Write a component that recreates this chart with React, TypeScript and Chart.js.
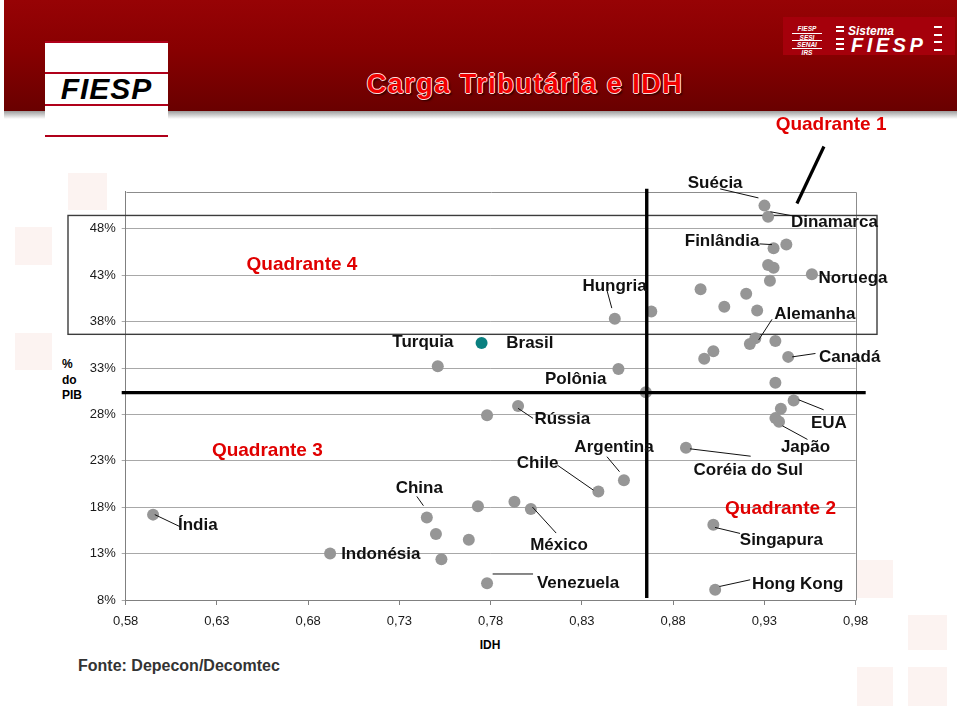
import React, { useEffect, useRef } from 'react';
import { Chart, registerables } from 'chart.js';

Chart.register(...registerables);

// ---------- data ----------
const countries = [
  'Índia', 'Indonésia', 'China', '', '', '', '', 'Turquia', 'Brasil', '',
  'Rússia', '', 'México', 'Venezuela', 'Chile', 'Argentina', 'Hungria', 'Polônia', '', '',
  'Coréia do Sul', 'Singapura', 'Hong Kong', '', '', '', '', '', '', 'Alemanha',
  '', '', 'Canadá', '', 'EUA', '', '', 'Japão', 'Suécia', 'Dinamarca',
  'Finlândia', '', '', '', 'Noruega', '',
];
const idh = [
  0.595, 0.692, 0.745, 0.750, 0.753, 0.768, 0.773, 0.751, 0.775, 0.778,
  0.795, 0.793, 0.802, 0.778, 0.839, 0.853, 0.848, 0.850, 0.868, 0.865,
  0.887, 0.902, 0.903, 0.895, 0.908, 0.920, 0.926, 0.897, 0.902, 0.925,
  0.922, 0.936, 0.943, 0.936, 0.946, 0.939, 0.936, 0.938, 0.930, 0.932,
  0.935, 0.942, 0.932, 0.935, 0.956, 0.933,
];
const carga = [
  17.2, 13.0, 16.9, 15.1, 12.4, 14.5, 18.1, 33.2, 35.7, 27.9,
  28.9, 18.6, 17.8, 9.8, 19.7, 20.9, 38.3, 32.9, 39.1, 30.4,
  24.4, 16.1, 9.1, 41.5, 39.6, 41.0, 39.2, 34.0, 34.8, 36.2,
  35.6, 35.9, 34.2, 31.4, 29.5, 28.6, 27.6, 27.2, 50.5, 49.3,
  45.9, 46.3, 44.1, 43.8, 43.1, 42.4,
];
const xTicks = [0.58, 0.63, 0.68, 0.73, 0.78, 0.83, 0.88, 0.93, 0.98];
const yTicks = [8, 13, 18, 23, 28, 33, 38, 43, 48];
const highlightCountry = 'Brasil';
const idhCut = 0.8655;
const cargaCut = 30.35;
const quadrantNames = ['Quadrante 1', 'Quadrante 2', 'Quadrante 3', 'Quadrante 4'];

// ---------- label layout (pixel offsets from the point) ----------
type LabelLayout = { dx: number; dy: number; line?: number[] };
const labelLayout: Record<string, LabelLayout> = {
  'Índia': { dx: 44.7, dy: 10.7, line: [1.7, 0, 27.7, 12.4] },
  'Indonésia': { dx: 50.7, dy: 1 },
  'China': { dx: -7.5, dy: -29.4, line: [-10, -21, -3.4, -11.7] },
  'Turquia': { dx: -14.9, dy: -24.3 },
  'Brasil': { dx: 48.3, dy: 0 },
  'Rússia': { dx: 44.2, dy: 13.3, line: [0, 2.3, 15, 12.3] },
  'México': { dx: 28.1, dy: 36.4, line: [1.6, -2, 25.3, 24] },
  'Venezuela': { dx: 91, dy: 0, line: [5.6, -9.3, 46, -9.3] },
  'Chile': { dx: -60.8, dy: -28.6, line: [-41, -26.3, -5, -1.3] },
  'Argentina': { dx: -9.9, dy: -33, line: [-17, -23.6, -4.4, -8.6] },
  'Hungria': { dx: -0.3, dy: -33, line: [-7.7, -28, -3, -10.7] },
  'Polônia': { dx: -42.8, dy: 10 },
  'Coréia do Sul': { dx: 62.3, dy: 22, line: [4, 1, 64.7, 8.4] },
  'Singapura': { dx: 68, dy: 15.3, line: [1.7, 2.6, 26.7, 8.6] },
  'Hong Kong': { dx: 82.5, dy: -5, line: [4.3, -3.3, 35, -10] },
  'Alemanha': { dx: 59.5, dy: -24, line: [16.7, -19, 3.3, 1.7] },
  'Canadá': { dx: 61.5, dy: 0, line: [4, 0, 27.3, -3.4] },
  'EUA': { dx: 35.2, dy: 22.7, line: [5, -0.7, 30, 9.3] },
  'Japão': { dx: 26.4, dy: 25.6, line: [3.4, 4, 28.4, 17.6] },
  'Suécia': { dx: -49.3, dy: -22.7, line: [-44.3, -16.7, -6, -7.7] },
  'Dinamarca': { dx: 66.3, dy: 6, line: [2.3, -5, 25.6, -0.7] },
  'Finlândia': { dx: -51.5, dy: -7, line: [-14, -4.4, -1.6, -3.7] },
  'Noruega': { dx: 41.1, dy: 3.7 },
};
// quadrant label anchor positions (in data space)
const quadrantAnchors = [
  { x: 0.9665, y: 59.2 },
  { x: 0.9388, y: 17.87 },
  { x: 0.6576, y: 24.07 },
  { x: 0.6766, y: 44.1 },
];

const FONT = '"Liberation Sans", Arial, Helvetica, sans-serif';

const annotationPlugin = {
  id: 'quadAnnotations',
  beforeDatasetsDraw(chart: any) {
    const { ctx, chartArea: a, scales } = chart;
    const ys = scales.y;
    ctx.save();
    // plot frame top & right
    ctx.strokeStyle = '#8c8c8c';
    ctx.lineWidth = 1;
    ctx.beginPath();
    ctx.moveTo(Math.round(a.left) + 0.5, Math.round(a.top) + 0.5);
    ctx.lineTo(Math.round(a.right) + 0.5, Math.round(a.top) + 0.5);
    ctx.lineTo(Math.round(a.right) + 0.5, Math.round(a.bottom) + 0.5);
    ctx.stroke();
    // quadrant 4 highlight box
    ctx.strokeStyle = '#3c3c3c';
    ctx.lineWidth = 1.4;
    const bt = ys.getPixelForValue(49.44);
    const bb = ys.getPixelForValue(36.63);
    ctx.strokeRect(a.left - 57.7, bt, a.right + 21.3 - (a.left - 57.7), bb - bt);
    ctx.restore();
  },
  afterDatasetsDraw(chart: any) {
    const { ctx, chartArea: a, scales } = chart;
    const xs = scales.x;
    const ys = scales.y;
    ctx.save();
    // quadrant dividing lines
    ctx.strokeStyle = '#000';
    ctx.lineWidth = 3.4;
    const vx = xs.getPixelForValue(idhCut);
    const hy = ys.getPixelForValue(cargaCut);
    ctx.beginPath();
    ctx.moveTo(vx, a.top - 3);
    ctx.lineTo(vx, a.bottom - 2);
    ctx.moveTo(a.left - 4, hy);
    ctx.lineTo(a.right + 10, hy);
    ctx.stroke();
    // quadrant 1 pointer
    ctx.lineWidth = 3.2;
    ctx.beginPath();
    ctx.moveTo(xs.getPixelForValue(0.9626), ys.getPixelForValue(56.87));
    ctx.lineTo(xs.getPixelForValue(0.9478), ys.getPixelForValue(50.73));
    ctx.stroke();

    // country labels
    ctx.font = `bold 17px ${FONT}`;
    ctx.textAlign = 'center';
    ctx.textBaseline = 'middle';
    ctx.lineWidth = 1;
    for (let i = 0; i < countries.length; i++) {
      const name = countries[i];
      const lay = labelLayout[name];
      if (!name || !lay) continue;
      const px = xs.getPixelForValue(idh[i]);
      const py = ys.getPixelForValue(carga[i]);
      if (lay.line) {
        ctx.strokeStyle = '#111';
        ctx.beginPath();
        ctx.moveTo(px + lay.line[0], py + lay.line[1]);
        ctx.lineTo(px + lay.line[2], py + lay.line[3]);
        ctx.stroke();
      }
      ctx.fillStyle = '#111';
      ctx.fillText(name, px + lay.dx, py + lay.dy);
    }

    // quadrant names
    ctx.font = `bold 19px ${FONT}`;
    ctx.fillStyle = '#e00000';
    quadrantNames.forEach((q, k) => {
      const p = quadrantAnchors[k];
      ctx.fillText(q, xs.getPixelForValue(p.x), ys.getPixelForValue(p.y));
    });
    ctx.restore();
  },
};

function ChartCanvas() {
  const ref = useRef<HTMLCanvasElement | null>(null);
  useEffect(() => {
    if (!ref.current) return;
    const pts = idh.map((x, i) => ({ x, y: carga[i], name: countries[i] }));
    const chart = new Chart(ref.current, {
      type: 'scatter',
      data: {
        datasets: [
          {
            label: 'Países',
            data: pts.filter((p) => p.name !== highlightCountry),
            backgroundColor: '#969696',
            borderWidth: 0,
            pointRadius: 6,
            pointHoverRadius: 6,
          },
          {
            label: highlightCountry,
            data: pts.filter((p) => p.name === highlightCountry),
            backgroundColor: '#0a8080',
            borderWidth: 0,
            pointRadius: 6,
            pointHoverRadius: 6,
          },
        ],
      },
      options: {
        responsive: false,
        animation: false,
        devicePixelRatio: 1,
        layout: { padding: { left: 75.7, top: 191.7, right: 104.3, bottom: 66 } },
        plugins: {
          legend: { display: false },
          tooltip: { enabled: false },
          title: { display: false },
        },
        scales: {
          x: {
            type: 'linear',
            min: 0.58,
            max: 0.98,
            afterBuildTicks: (s: any) => {
              s.ticks = xTicks.map((v) => ({ value: v }));
            },
            afterFit: (s: any) => {
              s.height = 40;
            },
            ticks: {
              padding: 9,
              color: '#1a1a1a',
              font: { family: FONT, size: 13 },
              callback: (v: any) => Number(v).toFixed(2).replace('.', ','),
              maxRotation: 0,
            },
            grid: {
              display: true,
              drawOnChartArea: false,
              drawTicks: true,
              tickLength: 5,
              color: '#808080',
            },
            border: { display: true, color: '#808080' },
          },
          y: {
            type: 'linear',
            min: 8,
            max: 52,
            afterBuildTicks: (s: any) => {
              s.ticks = yTicks.map((v) => ({ value: v }));
            },
            afterFit: (s: any) => {
              s.width = 50;
            },
            ticks: {
              padding: 6,
              color: '#1a1a1a',
              font: { family: FONT, size: 13 },
              callback: (v: any) => `${v}%`,
            },
            grid: {
              color: '#a8a8a8',
              drawTicks: true,
              tickLength: 4,
            },
            border: { display: true, color: '#808080' },
          },
        },
      },
      plugins: [annotationPlugin],
    } as any);
    return () => chart.destroy();
  }, []);
  return (
    <canvas
      ref={ref}
      width={960}
      height={706}
      style={{ position: 'absolute', left: 0, top: 0, width: 960, height: 706, zIndex: 2 }}
    />
  );
}

const faintSquares = [
  [68, 173, 39, 37], [15, 227, 37, 38], [15, 333, 37, 37],
  [857, 560, 36, 38], [908, 615, 39, 35], [857, 667, 36, 39], [908, 667, 39, 39],
];

export default function App() {
  const abs = (s: React.CSSProperties): React.CSSProperties => ({ position: 'absolute', ...s });
  const white = '#ffffff';
  return (
    <div
      style={{
        position: 'fixed', left: 0, top: 0, width: 960, height: 706,
        background: '#fff', overflow: 'hidden', fontFamily: FONT,
      }}
    >
      {faintSquares.map((s, i) => (
        <div key={i} style={abs({ left: s[0], top: s[1], width: s[2], height: s[3], background: '#fcf3f1' })} />
      ))}
      {/* header band */}
      <div style={abs({ left: 4, top: 0, width: 953, height: 111, background: 'linear-gradient(180deg,#970305 0%,#880001 45%,#690000 100%)' })} />
      <div style={abs({ left: 4, top: 111, width: 953, height: 8, background: 'linear-gradient(180deg,#9d9d9d,#ffffff)' })} />

      {/* left logo */}
      <div style={abs({ left: 45, top: 41, width: 123, height: 96, background: '#fff' })} />
      {[41, 72, 104, 135].map((t) => (
        <div key={t} style={abs({ left: 45, top: t, width: 123, height: 2, background: '#b0001a' })} />
      ))}
      <div style={abs({ left: 45, top: 74, width: 123, textAlign: 'center', fontSize: 30, lineHeight: '30px', fontWeight: 'bold', fontStyle: 'italic', letterSpacing: 1, color: '#000' })}>FIESP</div>

      {/* right logo */}
      <div style={abs({ left: 783, top: 17, width: 172, height: 38, background: '#a5000b' })} />
      {['FIESP', 'SESI', 'SENAI', 'IRS'].map((t, i) => (
        <div key={t} style={abs({ left: 792, top: 25 + i * 7.5, width: 30, textAlign: 'center', fontSize: 6.5, lineHeight: '7px', fontWeight: 'bold', fontStyle: 'italic', color: white, borderTop: i > 0 ? '1px solid #fff' : 'none' })}>{t}</div>
      ))}
      {[26, 30, 38, 43, 48].map((t) => (
        <div key={'l' + t} style={abs({ left: 836, top: t, width: 8, height: 1.5, background: white })} />
      ))}
      {[26, 34, 41, 49].map((t) => (
        <div key={'r' + t} style={abs({ left: 934, top: t, width: 8, height: 1.5, background: white })} />
      ))}
      <div style={abs({ left: 848, top: 23.5, fontSize: 12, lineHeight: '14px', fontWeight: 'bold', fontStyle: 'italic', color: white })}>Sistema</div>
      <div style={abs({ left: 851, top: 35, fontSize: 20, lineHeight: '20px', fontWeight: 'bold', fontStyle: 'italic', letterSpacing: 3.5, color: white })}>FIESP</div>

      {/* title */}
      <div
        style={abs({
          left: 525, top: 71, transform: 'translateX(-50%)', whiteSpace: 'nowrap',
          fontSize: 27, lineHeight: '27px', fontWeight: 'bold', letterSpacing: 1.5, color: '#f00000',
          textShadow: '1px 0 #fdd, -1px 0 #fdd, 0 1px #fdd, 0 -1px #fdd, 2px 2px 2px #2a0000',
        })}
      >
        Carga Tributária e IDH
      </div>

      {/* axis titles */}
      <div style={abs({ left: 62, top: 357, fontSize: 12, lineHeight: '15.5px', fontWeight: 'bold', color: '#000' })}>
        %<br />do<br />PIB
      </div>
      <div style={abs({ left: 490, top: 638, transform: 'translateX(-50%)', fontSize: 12, lineHeight: '14px', fontWeight: 'bold', color: '#000' })}>IDH</div>

      {/* source */}
      <div style={abs({ left: 78, top: 657, fontSize: 16, lineHeight: '18px', fontWeight: 'bold', color: '#333', whiteSpace: 'nowrap' })}>
        Fonte: Depecon/Decomtec
      </div>

      <ChartCanvas />
    </div>
  );
}
